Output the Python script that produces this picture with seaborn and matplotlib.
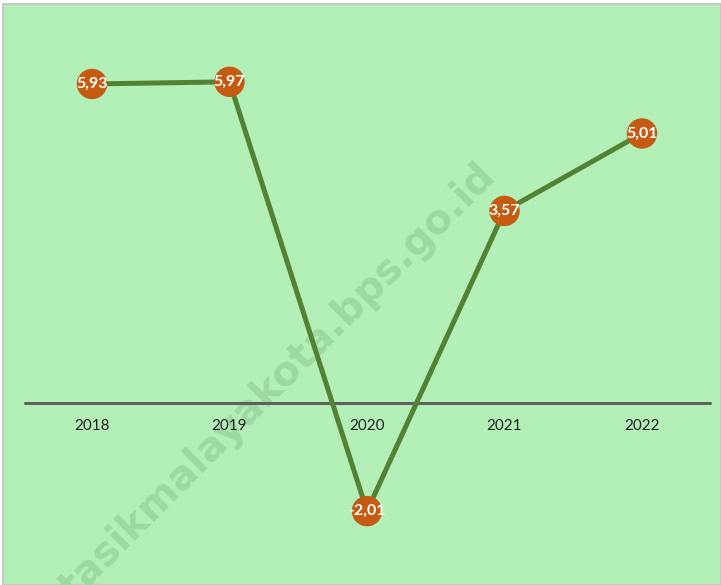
import matplotlib
matplotlib.use("Agg")
import matplotlib.pyplot as plt
import seaborn as sns
import pandas as pd
from matplotlib.patches import Rectangle

years = ["2018", "2019", "2020", "2021", "2022"]
values = [5.93, 5.97, -2.01, 3.57, 5.01]
labels = ["5,93", "5,97", "-2,01", "3,57", "5,01"]
watermark = "tasikmalayakota.bps.go.id"

df = pd.DataFrame({"idx": range(len(years)), "year": years, "value": values})

sns.set_theme(style="white")
plt.rcParams["font.family"] = ["Lato", "DejaVu Sans"]

W, H = 721, 585
fig = plt.figure(figsize=(W / 100, H / 100), dpi=100)
bg = "#b3f0b7"
fig.patch.set_facecolor("white")
fig.patches.append(Rectangle((3 / W, 0), 1 - 3 / W, 1 - 4 / H, transform=fig.transFigure,
                             facecolor=bg, edgecolor="#c8c8c8", linewidth=1.5, zorder=-10))

# watermark
fig.text(278 / W, 1 - 382 / H, watermark, rotation=45, ha="center", va="center",
         fontsize=29, fontweight="bold", color="#9ed9a3",
         family="DejaVu Sans", rotation_mode="anchor", zorder=-5)

ax = fig.add_axes([4 / W, 0, 1 - 4 / W, 1 - 5 / H])
ax.set_facecolor("none")
ax.patch.set_alpha(0)
for s in ax.spines.values():
    s.set_visible(False)

x0 = (4 - 92) / 137.5
x1 = (721 - 92) / 137.5
ax.set_xlim(x0, x1)
ax.set_ylim((403 - 585) / 53.8, (403 - 5) / 53.8)

ax.axhline(0, xmin=(-0.487 - x0) / (x1 - x0), xmax=(4.495 - x0) / (x1 - x0),
           color="#5f6060", lw=2.2, zorder=2)

sns.lineplot(data=df, x="idx", y="value", ax=ax, color="#548235", lw=3.6,
             zorder=3, legend=False)
sns.scatterplot(data=df, x="idx", y="value", ax=ax, color="#c55a11", s=480,
                edgecolor="none", zorder=4, legend=False)

for i, (v, lab) in enumerate(zip(values, labels)):
    ax.text(i, v, lab, ha="center", va="center", color="white",
            fontsize=11.5, fontweight="bold", zorder=5)
    ax.annotate(years[i], (i, 0), xytext=(0, -23), textcoords="offset pixels",
                ha="center", va="center", fontsize=11, color="#222222", zorder=5)

ax.set_xticks([])
ax.set_yticks([])
ax.set_xlabel("")
ax.set_ylabel("")

fig.savefig("out.png", dpi=100, facecolor=fig.get_facecolor())
